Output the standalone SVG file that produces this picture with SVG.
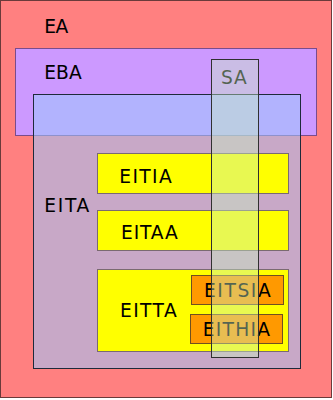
<svg xmlns="http://www.w3.org/2000/svg" width="333" height="400" viewBox="0 0 333 400">
<style>
text{font-family:Verdana,"DejaVu Sans",sans-serif;font-size:18.67px;fill:#000}
.ea{fill:#FF8080;stroke:#6a3a3a;stroke-width:1}
.eba{fill:#CC99FF;stroke:#7a4c8c;stroke-width:1}
.eita{fill:rgb(158,198,254);fill-opacity:0.57;stroke:#1e2a3a;stroke-width:1}
.y{fill:#FFFF00;stroke:#7a6a70;stroke-width:1}
.o{fill:#FF9900;stroke:#705020;stroke-width:1}
.sa{fill:rgb(200,238,192);fill-opacity:0.42;stroke:#303030;stroke-width:1}
</style>
<g id="EA"><rect class="ea" x="0.5" y="0.5" width="331" height="397"/><text x="44.3" y="33.3" textLength="24" lengthAdjust="spacing">EA</text></g>
<g id="EBA"><rect class="eba" x="15.5" y="48.5" width="301" height="87"/><text x="44.3" y="79.3" textLength="37.4" lengthAdjust="spacing">EBA</text></g>
<g id="EITA"><rect class="eita" x="33.5" y="94.5" width="267" height="274"/><text x="44.3" y="212" textLength="45" lengthAdjust="spacing">EITA</text></g>
<g id="EITIA"><rect class="y" x="97.5" y="153.5" width="191" height="40"/><text x="119.3" y="182.7" textLength="52.4" lengthAdjust="spacing">EITIA</text></g>
<g id="EITAA"><rect class="y" x="97.5" y="210.5" width="191" height="40"/><text x="121" y="239.3" textLength="56.7" lengthAdjust="spacing">EITAA</text></g>
<g id="EITTA"><rect class="y" x="97.5" y="269.5" width="191" height="82"/><text x="120" y="317.3" textLength="56.7" lengthAdjust="spacing">EITTA</text></g>
<g id="EITSIA"><rect class="o" x="191.5" y="275.5" width="92" height="29"/><text x="204" y="297.3" textLength="66.7" lengthAdjust="spacing">EITSIA</text></g>
<g id="EITHIA"><rect class="o" x="190.5" y="314.5" width="92" height="29"/><text x="202.7" y="336" textLength="67.3" lengthAdjust="spacing">EITHIA</text></g>
<g id="SA"><text x="221" y="84" textLength="25.7" lengthAdjust="spacing">SA</text><rect class="sa" x="211.5" y="59.5" width="47" height="298"/></g>
<g id="connectors"></g>
</svg>
